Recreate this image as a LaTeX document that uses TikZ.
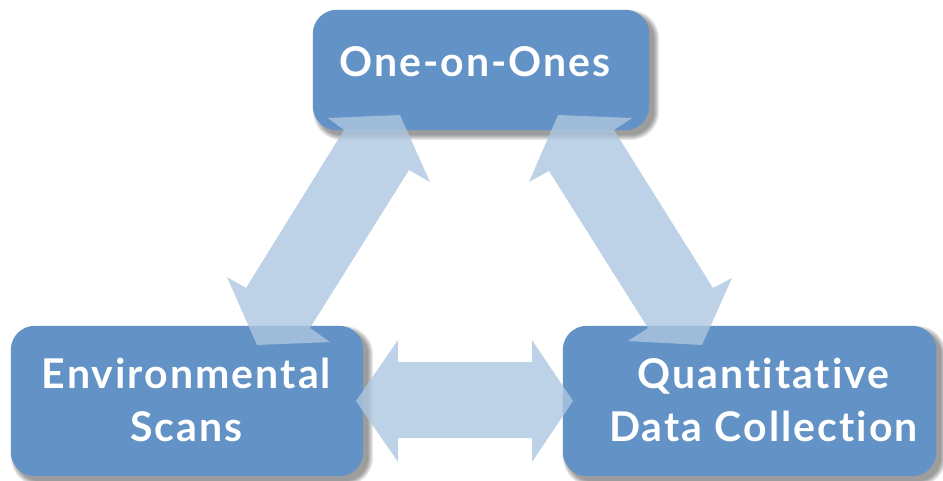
\documentclass[tikz,border=0pt]{standalone}
\usepackage{fontspec}
\setmainfont[Ligatures=CommonOff, LetterSpace=5]{Lato}
\definecolor{boxblue}{RGB}{98,146,198}
\definecolor{arrowblue}{RGB}{173,199,224}
\tikzset{
  box/.style={fill=boxblue, rounded corners=24pt, inner sep=0pt},
  lbl/.style={text=white, font=\fontsize{41}{53}\selectfont\bfseries, align=center, inner sep=0pt},
  blockarrow/.style={fill=arrowblue, fill opacity=0.8},
}
\newcommand{\boxshadow}[1]{%
  \foreach \k in {0,...,5}{
    \fill[black, fill opacity=0.08, rounded corners={24pt+\k pt}]
      ([shift={(5pt-\k pt,-5pt+\k pt)}]#1.north west) rectangle
      ([shift={(5pt+\k pt,-5pt-\k pt)}]#1.south east);
  }%
}
\begin{document}
\begin{tikzpicture}[x=1pt,y=-1pt]
\useasboundingbox (0,0) rectangle (943,480);
% box geometry
\path (481,70) node[minimum width=336pt, minimum height=120pt, inner sep=0pt] (top) {};
\path (187,401) node[minimum width=352pt, minimum height=150pt, inner sep=0pt] (env) {};
\path (749.5,401) node[minimum width=373pt, minimum height=150pt, inner sep=0pt] (quant) {};
% shadows
\boxshadow{top}
\boxshadow{env}
\boxshadow{quant}
% boxes
\fill[boxblue, rounded corners=24pt] (top.north west) rectangle (top.south east);
\fill[boxblue, rounded corners=24pt] (env.north west) rectangle (env.south east);
\fill[boxblue, rounded corners=24pt] (quant.north west) rectangle (quant.south east);
% labels
\node[lbl] (ttop) at (475,61.5) {One-on-Ones};
\node[lbl] (tenv) at (186.5,399.5) {Environmental\\Scans};
\node[lbl] (tquant) at (763.5,399.5) {Quantitative\\Data Collection};
% block arrows
\fill[blockarrow] (328,118) -- (400,115) -- (430,182) -- (409,170) -- (310,328)
  -- (330,342) -- (257,345) -- (227,277) -- (246,288) -- (344,130) -- cycle;
\fill[blockarrow] (632,118) -- (558,115) -- (529,182) -- (549,171) -- (648,328)
  -- (628,341) -- (702,345) -- (732,278) -- (713,288) -- (614,130) -- cycle;
\fill[blockarrow] (356,401) -- (398,340) -- (398,362) -- (532,362) -- (532,340)
  -- (573,401) -- (532,462) -- (532,438) -- (398,438) -- (398,462) -- cycle;
\end{tikzpicture}
\end{document}
